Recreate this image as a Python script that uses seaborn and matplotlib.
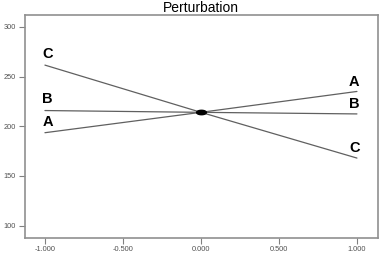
import matplotlib
matplotlib.use("Agg")
import matplotlib.pyplot as plt
import seaborn as sns
import pandas as pd
import numpy as np

factors = ["A", "B", "C"]
deviation = [-1.0, 0.0, 1.0]
response_A = [193.5, 214.0, 235.0]
response_B = [215.8, 214.0, 212.4]
response_C = [261.5, 214.0, 168.0]
x_ticks = [-1.0, -0.5, 0.0, 0.5, 1.0]
x_tick_labels = ["-1.000", "-0.500", "0.000", "0.500", "1.000"]
y_ticks = [100, 150, 200, 250, 300]
ref_point = (0.0, 214.0)

sns.set_theme(style="white")
plt.rcParams['font.family'] = ['Liberation Sans', 'DejaVu Sans']

rows = []
for f, vals in zip(factors, [response_A, response_B, response_C]):
    for d, v in zip(deviation, vals):
        rows.append({"factor": f, "dev": d, "resp": v})
df = pd.DataFrame(rows)

fig = plt.figure(figsize=(3.8, 2.54), dpi=100)
ax = fig.add_axes([24.5/380, 1 - 238/254, (378-24.5)/380, (238-14.5)/254])

sns.lineplot(data=df, x="dev", y="resp", units="factor", estimator=None,
             color="#606060", linewidth=0.9, ax=ax, legend=False)

t = np.linspace(0, 2*np.pi, 40)
ell = np.column_stack([np.cos(t)*1.0, np.sin(t)*0.45])
ax.scatter([ref_point[0]], [ref_point[1]], marker=ell, s=50, color="black", zorder=5)

for f, vals in zip(factors, [response_A, response_B, response_C]):
    ax.annotate(f, (deviation[0], vals[0]), xytext=(-2, 3), textcoords="offset points",
                ha="left", va="bottom", fontsize=10.5, fontweight="bold", color="black")
    ax.annotate(f, (deviation[-1], vals[-1]), xytext=(2, 2), textcoords="offset points",
                ha="right", va="bottom", fontsize=10.5, fontweight="bold", color="black")

ax.set_xlim(-1.131, 1.135)
ax.set_ylim(87.6, 312.4)
ax.set_xticks(x_ticks)
ax.set_xticklabels(x_tick_labels)
ax.set_yticks(y_ticks)
ax.set_xlabel("")
ax.set_ylabel("")
ax.tick_params(axis="both", direction="out", length=4, width=0.8, color="#808080",
               labelsize=5.3, labelcolor="#505050", pad=2, bottom=True, left=True)
for s in ax.spines.values():
    s.set_color("#909090")
    s.set_linewidth(1.2)
ax.set_title("Perturbation", fontsize=10, pad=1.5, color="black")

fig.savefig("out.png", dpi=100)
